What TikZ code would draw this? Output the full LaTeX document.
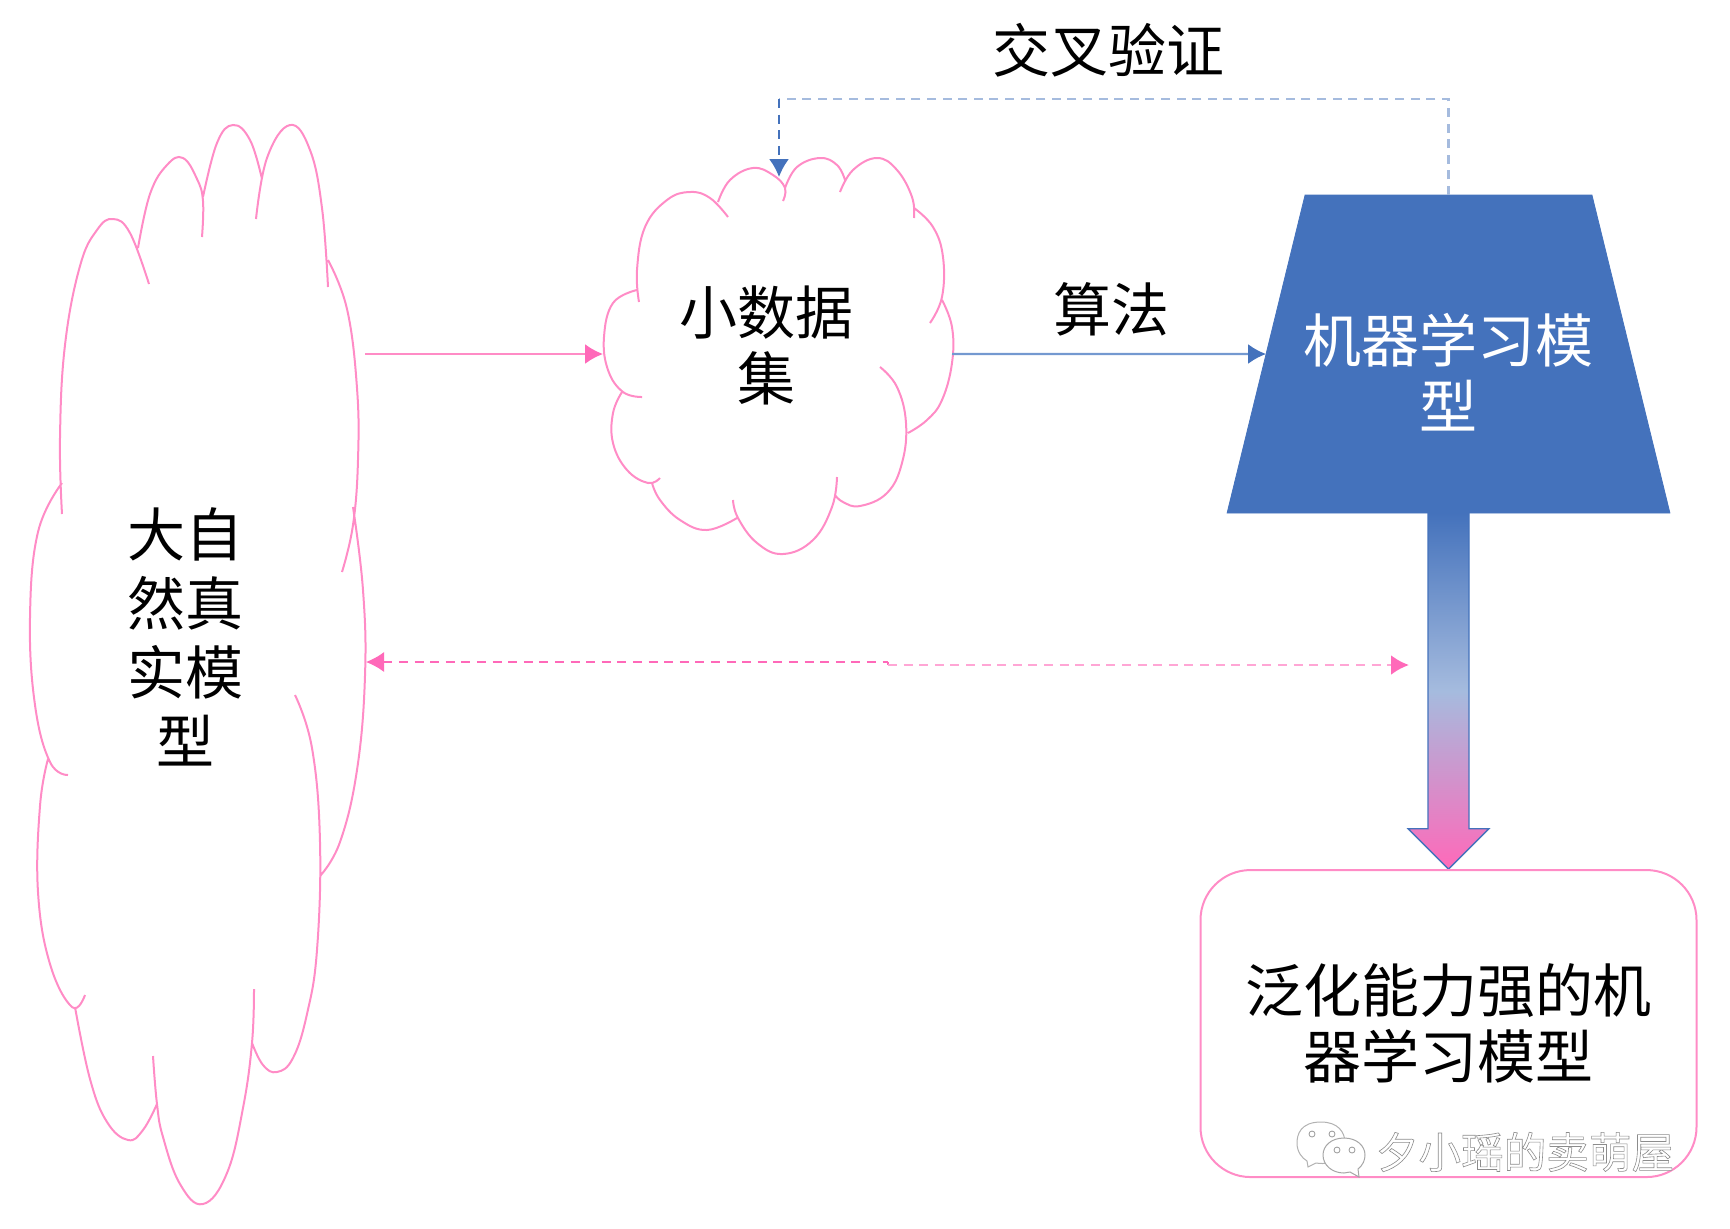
\documentclass[tikz,border=0pt]{standalone}
\usepackage{fontspec}
\usepackage{xcolor}
\usetikzlibrary{arrows.meta,positioning,shapes.geometric,shapes.arrows}
\setmainfont{Noto Sans CJK SC}
\definecolor{cloudpink}{HTML}{FF8CC6}
\definecolor{tippink}{HTML}{FF69B9}
\definecolor{fadepink}{HTML}{FFA6D5}
\definecolor{modelblue}{HTML}{4472BC}
\definecolor{fadeblue}{HTML}{A5BBDE}
\definecolor{lineblue}{HTML}{7499D0}
\tikzset{
  cloudline/.style={draw=cloudpink,line width=1pt},
  bigtext/.style={font=\fontsize{29}{33}\selectfont,align=center,inner sep=0pt},
  pinktip/.style={-{Latex[length=9pt,width=10pt,color=tippink]}},
  bluetip/.style={-{Latex[length=9pt,width=10pt,color=modelblue]}},
  shortdash/.style={dash pattern=on 4.5pt off 3.3pt}
}
\begin{document}
\begin{tikzpicture}[x=0.5pt,y=-0.5pt,smooth,tension=0.7]
  \useasboundingbox (0,0) rectangle (1730,1228);

  % big cloud
  \draw[cloudline]
    plot[smooth] coordinates {(62,514)(60,438)(65,345)(80,266)(97,230)(113,219)(130,233)(149,284)}
    plot[smooth] coordinates {(138,248)(150,194)(167,165)(183,158)(197,179)(203,201)(202,237)}
    plot[smooth] coordinates {(203,197)(217,143)(233,125)(250,140)(262,179)}
    plot[smooth] coordinates {(256,219)(267,158)(290,125)(310,150)(322,208)(328,287)}
    plot[smooth] coordinates {(328,260)(347,309)(357,388)(358,460)(353,525)(342,572)}
    plot[smooth] coordinates {(353,507)(363,590)(365,676)(357,770)(340,842)(320,876)}
    plot[smooth] coordinates {(295,695)(312,748)(320,842)(317,950)(307,1014)(293,1058)(277,1072)(263,1065)(252,1043)}
    plot[smooth] coordinates {(254,989)(252,1043)(243,1108)(227,1173)(203,1204)(180,1184)(163,1137)(157,1104)(153,1056)}
    plot[smooth] coordinates {(157,1104)(143,1130)(128,1140)(107,1122)(90,1079)(75,1007)}
    plot[smooth] coordinates {(85,995)(72,1007)(50,964)(38,892)(40,806)(48,759)}
    plot[smooth] coordinates {(68,775)(50,762)(35,705)(30,618)(38,532)(62,483)};

  % small cloud
  \draw[cloudline]
    plot[smooth] coordinates {(639,302)(637,270)(645,227)(667,200)(690,192)(710,198)(728,217)}
    plot[smooth] coordinates {(718,202)(730,180)(753,168)(773,175)(785,188)(783,201)}
    plot[smooth] coordinates {(785,188)(797,167)(820,158)(837,165)(845,180)}
    plot[smooth] coordinates {(840,192)(853,170)(877,158)(897,170)(912,197)(914,218)}
    plot[smooth] coordinates {(914,208)(933,227)(943,257)(942,297)(930,323)}
    plot[smooth] coordinates {(942,300)(952,327)(952,363)(942,400)(927,420)(908,433)}
    plot[smooth] coordinates {(880,367)(897,387)(906,423)(902,463)(887,493)(860,506)(843,502)(835,495)}
    plot[smooth] coordinates {(837,477)(832,507)(813,540)(783,554)(757,543)(738,518)(733,500)}
    plot[smooth] coordinates {(737,518)(707,530)(680,520)(660,500)(652,483)}
    plot[smooth] coordinates {(660,478)(648,483)(627,470)(613,443)(613,413)(622,392)}
    plot[smooth] coordinates {(642,397)(623,392)(608,370)(604,337)(613,303)(637,290)};

  \node[bigtext,font=\fontsize{29}{34.4}\selectfont] (nature) at (185,637) {大自\\然真\\实模\\型};
  \node[bigtext] (smalldata) at (766,345) {小数据\\集};
  \node[bigtext] (crossval) at (1108,50) {交叉验证};
  \node[bigtext] (algo) at (1111,309) {算法};

  \node[trapezium,fill=modelblue,draw=modelblue,trapezium left angle=76,trapezium right angle=76,
    trapezium stretches=true,minimum width=221.5pt,minimum height=159pt,inner sep=0pt,outer sep=0pt]
    (model) at (1448.5,354) {\phantom{x}};
  \node[bigtext,text=white] (modeltext) at (1448,372) {机器学习模\\型};

  \node[single arrow,shape border rotate=270,draw=modelblue,line width=0.7pt,
    top color=modelblue,bottom color=tippink,middle color=fadeblue,
    minimum width=39.5pt,single arrow head extend=9.9pt,single arrow head indent=0pt,
    minimum height=178pt,inner xsep=9.9pt,inner ysep=0pt,outer sep=0pt,anchor=tail]
    (genarrow) at (model.south) {};

  \node[draw=cloudpink,line width=1pt,rounded corners=25pt,minimum width=248pt,minimum height=153.5pt,
    below=0pt of genarrow.tip,bigtext] (genmodel) {泛化能力强的机\\器学习模型};

  % arrow ends
  \coordinate (natureout) at (365,354);
  \coordinate (smallin) at (603,354);
  \coordinate (smallout) at (952,354);
  \coordinate (natureback) at (366,662);
  \coordinate (jogleft) at (888,662);
  \coordinate (jogright) at (888,665);
  \coordinate (modelback) at (1409,665);
  \coordinate (looptop) at (779,99);
  \coordinate (smalltop) at (779,177);

  \draw[pinktip,draw=cloudpink,line width=1pt] (natureout) -- (smallin);
  \draw[bluetip,draw=lineblue,line width=1.1pt] (smallout) -- (model.west);
  \draw[draw=fadeblue,line width=1.4pt,shortdash] (model.north) |- (looptop);
  \draw[bluetip,draw=modelblue,line width=0.9pt,shortdash] (looptop) -- (smalltop);
  \draw[{Latex[length=9pt,width=10pt,color=tippink]}-,draw=tippink,line width=0.7pt,shortdash] (natureback) -- (jogleft);
  \draw[draw=tippink,line width=0.7pt] (jogleft) -- (jogright);
  \draw[pinktip,draw=fadepink,line width=1.4pt,shortdash] (jogright) -- (modelback);

  % watermark
  \filldraw[fill=white,draw=black!30,line width=0.5pt]
    (1321,1122) .. controls (1300,1122) and (1297,1135) .. (1297,1143)
    .. controls (1297,1152) and (1302,1158) .. (1307,1161) -- (1308,1167) -- (1316,1163)
    .. controls (1335,1166) and (1345,1155) .. (1345,1143)
    .. controls (1345,1132) and (1338,1122) .. (1321,1122) -- cycle;
  \filldraw[fill=white,draw=black!35,line width=0.5pt]
    (1344,1138) .. controls (1331,1138) and (1323,1146) .. (1323,1155)
    .. controls (1323,1165) and (1332,1173) .. (1344,1173) -- (1350,1172) -- (1359,1177) -- (1358,1169)
    .. controls (1363,1165) and (1365,1160) .. (1365,1155)
    .. controls (1365,1146) and (1357,1138) .. (1344,1138) -- cycle;
  \foreach \ex/\ey in {1312/1134,1332/1134,1337/1150,1352/1150}
    \draw[black!40,line width=0.4pt] (\ex,\ey) circle (3);
  \node[inner sep=0pt,font=\fontsize{21.3}{24}\selectfont] (mark) at (1525,1152)
    {\special{pdf:code q 2 Tr .3 w .55 .55 .55 RG 1 1 1 rg}夕小瑶的卖萌屋\special{pdf:code Q}};
\end{tikzpicture}
\end{document}
